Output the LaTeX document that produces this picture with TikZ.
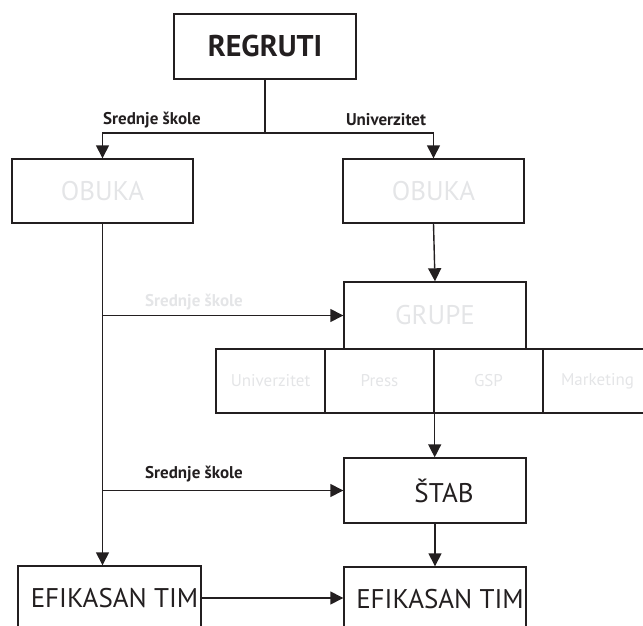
\documentclass[tikz,border=0pt]{standalone}
\usepackage{fontspec}
\setmainfont{PT Sans}
\usetikzlibrary{arrows.meta}
\definecolor{ink}{HTML}{231F20}
\definecolor{faint}{HTML}{E4E5E7}
\begin{document}
\begin{tikzpicture}[x=1pt,y=-1pt,
  box/.style={draw=ink,line width=1.4pt,inner sep=0pt,minimum width=182pt,minimum height=64pt,text=ink},
  cell/.style={draw=ink,line width=1.4pt,inner sep=0pt,minimum width=109pt,minimum height=64pt,text=faint,font=\fontsize{17}{17}\selectfont},
  big/.style={font=\fontsize{27}{27}\selectfont},
  lbl/.style={font=\bfseries\fontsize{17}{17}\selectfont,text=ink,inner sep=0pt},
  arr/.style={draw=ink,line width=1.4pt,-{Triangle[width=13pt,length=13pt]}},
  ln/.style={draw=ink,line width=1.4pt}]
\useasboundingbox (0,0) rectangle (643,626);
\clip (0,0) rectangle (643,626);

% boxes
\node[box,minimum height=65pt,font=\bfseries\fontsize{30}{30}\selectfont] (regruti) at (265,46.5) {REGRUTI};
\node[box,big,text=faint,minimum width=181pt] (obukaL) at (102.5,191) {OBUKA};
\node[box,big,text=faint,minimum width=181pt] (obukaR) at (433.5,191) {OBUKA};
\node[box,big,text=faint,minimum height=67pt] (grupe) at (435,315.5) {GRUPE};
\node[cell] (univ) at (270.5,381) {Univerzitet};
\node[cell] (press) at (379.5,381) {Press};
\node[cell] (gsp) at (488.5,381) {GSP};
\node[cell] (mark) at (597.5,381) {Marketing};
\node[box,minimum height=65pt] (stab) at (435,490.5) {};
\node[big,text=ink] at ([xshift=9pt]stab.center) {ŠTAB};
\node[box,minimum width=183pt] (efikL) at (109.5,598) {};
\node[big,text=ink] at ([xshift=5pt]efikL.center) {EFIKASAN TIM};
\node[box] (efikR) at (435,599) {};
\node[big,text=ink] at ([xshift=5pt]efikR.center) {EFIKASAN TIM};

% labels
\node[lbl] (l1) at (152,120) {Srednje škole};
\node[lbl] (l2) at (386,120) {Univerzitet};
\node[lbl,text=faint] (l3) at (194,302) {Srednje škole};
\node[lbl] (l4) at (194,474) {Srednje škole};

% connectors
\coordinate (split) at (regruti.south |- 0,133);
\draw[ln] (regruti.south) -- (split);
\draw[arr] (split) -| (obukaL.north);
\draw[arr] (split) -| (obukaR.north);
\draw[arr] (obukaR.south) -- (grupe.north);
\draw[arr] (obukaL.south) -- (obukaL.south |- efikL.north);
\draw[arr] (obukaL.south |- grupe.west) -- (grupe.west);
\draw[arr] (obukaL.south |- stab.west) -- (stab.west);
\draw[arr] (press.south east) -- (press.south east |- stab.north);
\draw[arr] (stab.south) -- (efikR.north);
\draw[arr] (efikL.east) -- (efikL.east -| efikR.west);
\end{tikzpicture}
\end{document}
